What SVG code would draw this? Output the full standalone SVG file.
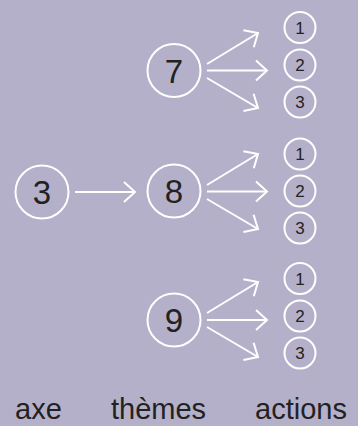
<svg xmlns="http://www.w3.org/2000/svg" width="358" height="426" viewBox="0 0 358 426">
<defs>
<style>
.bg{fill:#b5b0c9}
.c{fill:none;stroke:#fff;stroke-width:2}
.big{font-family:"Liberation Sans",Arial,sans-serif;font-size:33px;fill:#222;text-anchor:middle}
.sm{font-family:"Liberation Sans",Arial,sans-serif;font-size:17px;fill:#222;text-anchor:middle}
.lbl{font-family:"Liberation Sans",Arial,sans-serif;font-size:29px;fill:#222}
.a{fill:none;stroke:#fff;stroke-width:2;marker-end:url(#h)}
</style>
<marker id="h" markerUnits="userSpaceOnUse" markerWidth="30" markerHeight="30" viewBox="-15 -15 30 30" refX="0" refY="0" orient="auto">
<path d="M-11,-10 L0,0 L-11,10" fill="none" stroke="#fff" stroke-width="2"/>
</marker>
</defs>
<rect class="bg" width="358" height="426"/>
<g id="connectors">
<line class="a" x1="75" y1="192" x2="135" y2="192"/>
<line class="a" x1="207" y1="64" x2="258" y2="33"/>
<line class="a" x1="207" y1="70.5" x2="267" y2="70.5"/>
<line class="a" x1="207" y1="78" x2="258" y2="108"/>
<line class="a" x1="207" y1="185" x2="258" y2="154"/>
<line class="a" x1="207" y1="191.5" x2="267" y2="191.5"/>
<line class="a" x1="207" y1="199" x2="258" y2="229"/>
<line class="a" x1="207" y1="313" x2="258" y2="282"/>
<line class="a" x1="207" y1="320" x2="267" y2="320"/>
<line class="a" x1="207" y1="327" x2="258" y2="357"/>
</g>
<g id="axe3"><circle class="c" cx="42" cy="192" r="26.5"/><text class="big" x="42" y="204">3</text></g>
<g id="theme7"><circle class="c" cx="174" cy="70.5" r="26.5"/><text class="big" x="174" y="82.5">7</text></g>
<g id="theme8"><circle class="c" cx="174" cy="191" r="26.5"/><text class="big" x="174" y="203">8</text></g>
<g id="theme9"><circle class="c" cx="174" cy="320" r="26.5"/><text class="big" x="174" y="332">9</text></g>
<g id="a7-1"><circle class="c" cx="300" cy="27.5" r="15.5"/><text class="sm" x="300" y="33.5">1</text></g>
<g id="a7-2"><circle class="c" cx="300" cy="65" r="15.5"/><text class="sm" x="300" y="71">2</text></g>
<g id="a7-3"><circle class="c" cx="300" cy="102" r="15.5"/><text class="sm" x="300" y="108">3</text></g>
<g id="a8-1"><circle class="c" cx="300" cy="154" r="15.5"/><text class="sm" x="300" y="160">1</text></g>
<g id="a8-2"><circle class="c" cx="300" cy="191" r="15.5"/><text class="sm" x="300" y="197">2</text></g>
<g id="a8-3"><circle class="c" cx="300" cy="228" r="15.5"/><text class="sm" x="300" y="234">3</text></g>
<g id="a9-1"><circle class="c" cx="300" cy="278.5" r="15.5"/><text class="sm" x="300" y="284.5">1</text></g>
<g id="a9-2"><circle class="c" cx="300" cy="316" r="15.5"/><text class="sm" x="300" y="322">2</text></g>
<g id="a9-3"><circle class="c" cx="300" cy="353" r="15.5"/><text class="sm" x="300" y="359">3</text></g>
<g id="labels">
<text class="lbl" x="15" y="419">axe</text>
<text class="lbl" x="111" y="419">thèmes</text>
<text class="lbl" x="255" y="419">actions</text>
</g>
</svg>
